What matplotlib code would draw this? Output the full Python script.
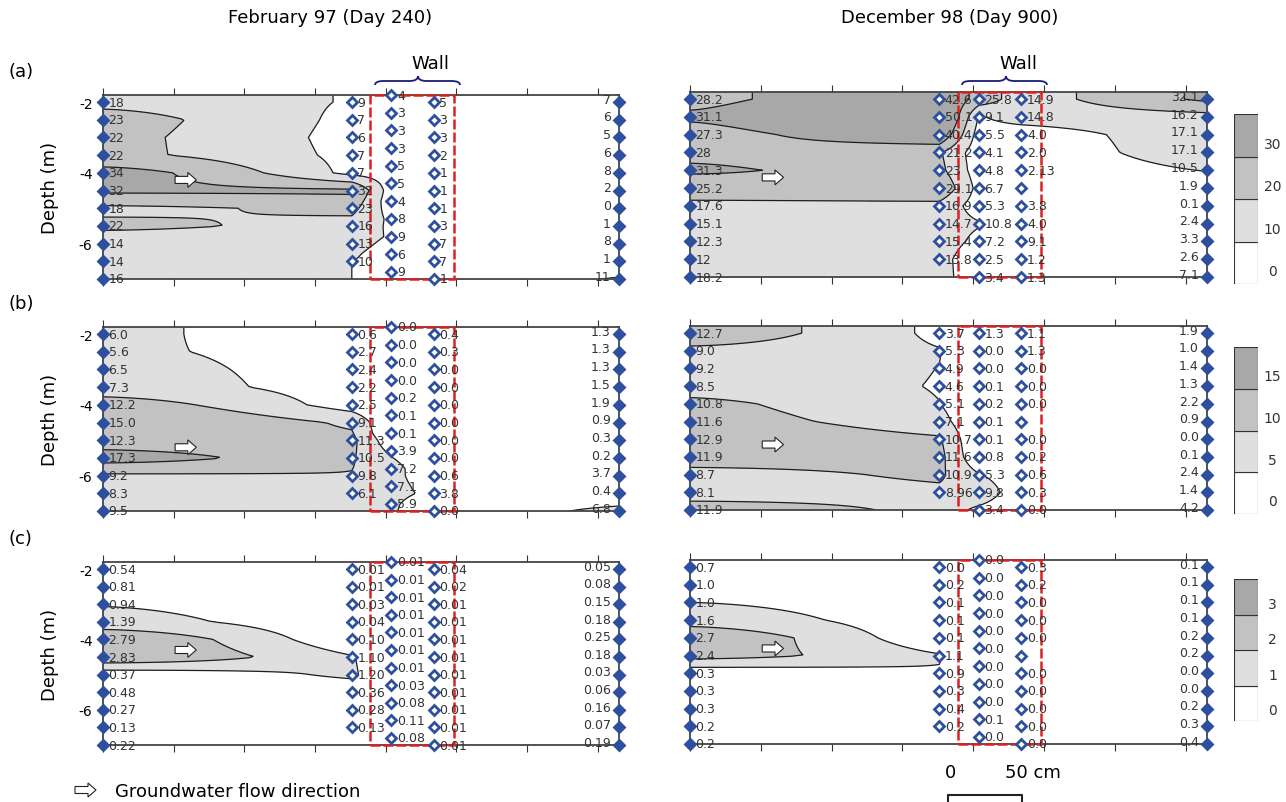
import numpy as np
import matplotlib
matplotlib.use('Agg')
import matplotlib.pyplot as plt
from matplotlib.patches import FancyArrow, Rectangle, PathPatch
from matplotlib.path import Path

plt.rcParams['axes.unicode_minus'] = False

# sampling geometry (cm from upstream well, depth in m)
COL_X = [0, 176, 204, 234, 365]
DEPTH = [-2.0, -2.5, -3.0, -3.5, -4.0, -4.5, -5.0, -5.5, -6.0, -6.5, -7.0]
DEPTH_UP = DEPTH[:10]
DEPTH_HI = [d + 0.2 for d in DEPTH]
nan = np.nan

# ---- February 97 (Day 240) ----
feb_a = [[18, 23, 22, 22, 34, 32, 18, 22, 14, 14, 16],
         [9, 7, 6, 7, 7, 32, 23, 16, 13, 10],
         [4, 3, 3, 3, 5, 5, 4, 8, 9, 6, 9],
         [5, 3, 3, 2, 1, 1, 1, 3, 7, 7, 1],
         [7, 6, 5, 6, 8, 2, 0, 1, 8, 1, 11]]
feb_b = [[6.0, 5.6, 6.5, 7.3, 12.2, 15.0, 12.3, 17.3, 9.2, 8.3, 9.5],
         [0.6, 2.7, 2.4, 2.2, 2.5, 9.1, 11.3, 10.5, 9.8, 6.1],
         [0.0, 0.0, 0.0, 0.0, 0.2, 0.1, 0.1, 3.9, 7.2, 7.1, 5.9],
         [0.4, 0.3, 0.0, 0.0, 0.0, 0.0, 0.0, 0.0, 0.6, 3.8, 0.0],
         [1.3, 1.3, 1.3, 1.5, 1.9, 0.9, 0.3, 0.2, 3.7, 0.4, 6.8]]
feb_c = [[0.54, 0.81, 0.94, 1.39, 2.79, 2.83, 0.37, 0.48, 0.27, 0.13, 0.22],
         [0.01, 0.01, 0.03, 0.04, 0.10, 1.10, 1.20, 0.36, 0.28, 0.13],
         [0.01, 0.01, 0.01, 0.01, 0.01, 0.01, 0.01, 0.03, 0.08, 0.11, 0.08],
         [0.04, 0.02, 0.01, 0.01, 0.01, 0.01, 0.01, 0.01, 0.01, 0.01, 0.01],
         [0.05, 0.08, 0.15, 0.18, 0.25, 0.18, 0.03, 0.06, 0.16, 0.07, 0.19]]

# ---- December 98 (Day 900) ----
dec_a = [[28.2, 31.1, 27.3, 28, 31.3, 25.2, 17.6, 15.1, 12.3, 12, 18.2],
         [42.6, 50.1, 40.4, 21.2, 23, 29.1, 16.9, 14.7, 15.4, 13.8],
         [25.8, 9.1, 5.5, 4.1, 4.8, 6.7, 5.3, 10.8, 7.2, 2.5, 3.4],
         [14.9, 14.8, 4.0, 2.0, 2.13, nan, 3.8, 4.0, 9.1, 1.2, 1.3],
         [32.1, 16.2, 17.1, 17.1, 10.5, 1.9, 0.1, 2.4, 3.3, 2.6, 7.1]]
dec_b = [[12.7, 9.0, 9.2, 8.5, 10.8, 11.6, 12.9, 11.9, 8.7, 8.1, 11.9],
         [3.7, 5.3, 4.9, 4.6, 5.1, 7.1, 10.7, 11.6, 10.9, 8.96],
         [1.3, 0.0, 0.0, 0.1, 0.2, 0.1, 0.1, 0.8, 5.3, 9.8, 3.4],
         [1.1, 1.3, 0.0, 0.0, 0.0, nan, 0.0, 0.2, 0.6, 0.3, 0.0],
         [1.9, 1.0, 1.4, 1.3, 2.2, 0.9, 0.0, 0.1, 2.4, 1.4, 4.2]]
dec_c = [[0.7, 1.0, 1.0, 1.6, 2.7, 2.4, 0.3, 0.3, 0.3, 0.2, 0.2],
         [0.0, 0.2, 0.1, 0.1, 0.1, 1.1, 0.9, 0.3, 0.4, 0.2],
         [0.0, 0.0, 0.0, 0.0, 0.0, 0.0, 0.0, 0.0, 0.0, 0.1, 0.0],
         [0.3, 0.2, 0.0, 0.0, 0.0, nan, 0.0, 0.0, 0.0, 0.0, 0.0],
         [0.1, 0.1, 0.1, 0.1, 0.2, 0.2, 0.0, 0.0, 0.2, 0.3, 0.4]]

LEVELS = {'a': [0, 10, 20, 30], 'b': [0, 5, 10, 15], 'c': [0, 1, 2, 3]}
FILLS = ['#ffffff', '#dfdfdf', '#c2c2c2', '#a8a8a8']
BLUE = '#2d4f9e'


def col_depths(side, row, k):
    if k == 1:
        return DEPTH_UP
    if k == 2 and (side == 'L' or row == 'c'):
        return DEPTH_HI
    return DEPTH


def warp(x):
    # stretch the wide gap between the two well lines
    x = np.asarray(x, float)
    return np.where(x < COL_X[1], COL_X[1] * (x / COL_X[1]) ** 1.5, x)


def grid(cols, side, row):
    yg = np.linspace(-7.0, -1.8, 131)
    xg = np.linspace(0, 365, 731)
    cv = []
    for k, vals in enumerate(cols):
        d = np.array(col_depths(side, row, k))
        v = np.array(vals, float)
        m = ~np.isnan(v)
        o = np.argsort(d[m])
        cv.append(np.interp(yg, d[m][o], v[m][o]))
    cv = np.array(cv)
    xw = warp(xg)
    Z = np.array([np.interp(xw, COL_X, cv[:, j]) for j in range(len(yg))])
    return xg, yg, Z


def make_labels(cols, f):
    out = []
    for vals in cols:
        out.append(["" if (isinstance(v, float) and np.isnan(v)) else f % v for v in vals])
    return out


feb_a_lab = make_labels(feb_a, "%d")
feb_b_lab = make_labels(feb_b, "%.1f")
feb_c_lab = make_labels(feb_c, "%.2f")
dec_a_lab = make_labels(dec_a, "%.1f")
dec_a_lab[0][3] = "28"
dec_a_lab[0][9] = "12"
dec_a_lab[1][4] = "23"
dec_a_lab[3][4] = "2.13"
dec_b_lab = make_labels(dec_b, "%.1f")
dec_b_lab[1][9] = "8.96"
dec_c_lab = make_labels(dec_c, "%.1f")


def draw_panel(ax, cols, texts, side, row, arrow_y):
    lv = LEVELS[row]
    xg, yg, Z = grid(cols, side, row)
    ax.contourf(xg, yg, Z, levels=lv + [1e4], colors=FILLS)
    ax.contour(xg, yg, Z, levels=lv[1:], colors='#1e1e1e', linewidths=0.9)
    ax.add_patch(Rectangle((189, -7.0), 59, 5.2, fill=False, ec='#e02020', lw=1.8,
                           ls=(0, (4, 1.2)), zorder=4, clip_on=False))
    for k, vals in enumerate(cols):
        d = col_depths(side, row, k)
        edge = k in (0, 4)
        ax.plot([COL_X[k]] * len(vals), d, ls='none', marker='D', ms=5.5,
                mfc=BLUE if edge else 'white', mec=BLUE, mew=2.0, zorder=6, clip_on=False)
        for j in range(len(vals)):
            t = texts[k][j]
            if not t:
                continue
            if k == 4:
                ax.annotate(t, (COL_X[k], d[j]), xytext=(-6, 2), textcoords='offset points',
                            ha='right', va='center', fontsize=9, color='#333333', zorder=7)
            else:
                ax.annotate(t, (COL_X[k], d[j]), xytext=(4, 0), textcoords='offset points',
                            ha='left', va='center', fontsize=9, color='#333333', zorder=7)
    ax.add_patch(FancyArrow(51, arrow_y, 15, 0, width=0.2, head_width=0.42, head_length=6,
                            length_includes_head=True, fc='white', ec='#222222', lw=0.8, zorder=5))
    ax.set_xlim(0, 365)
    ax.set_ylim(-7.0, -1.8)
    ax.set_xticks(np.arange(0, 351, 50))
    ax.set_yticks([-2, -4, -6])
    ax.tick_params(axis='x', top=True, bottom=True, labelbottom=False,
                   direction='out', length=5, color='#333333')
    ax.tick_params(axis='y', left=True, right=True, direction='inout', length=8,
                   color='#333333', labelsize=10, labelleft=(side == 'L'))
    for s in ax.spines.values():
        s.set_color('#444444')
        s.set_linewidth(1.3)


fig = plt.figure(figsize=(12.86, 8.03), dpi=100)
W, H = 1286.0, 803.0


def ax_at(x0, x1, y0, y1):
    return fig.add_axes([x0 / W, 1 - y1 / H, (x1 - x0) / W, (y1 - y0) / H])


panels = [
    ('L', 'a', feb_a, feb_a_lab, (103, 619, 96, 280), -4.2),
    ('L', 'b', feb_b, feb_b_lab, (103, 619, 328, 512), -5.2),
    ('L', 'c', feb_c, feb_c_lab, (103, 619, 563, 746), -4.3),
    ('R', 'a', dec_a, dec_a_lab, (690, 1207, 93, 278), -4.2),
    ('R', 'b', dec_b, dec_b_lab, (690, 1207, 327, 511), -5.15),
    ('R', 'c', dec_c, dec_c_lab, (690, 1207, 561, 745), -4.3),
]
for side, row, cols, labs, box, ay in panels:
    ax = ax_at(*box)
    draw_panel(ax, cols, labs, side, row, ay)
    if side == 'L':
        yc = (box[2] + box[3]) / 2
        fig.text(50 / W, 1 - yc / H, "Depth (m)", rotation=90, ha='center', va='center', fontsize=13)
        fig.text(8 / W, 1 - (box[2] - 24) / H, "(%s)" % row, ha='left', va='center', fontsize=13)

# legend bars
cbars = [('a', 1234, 1258, 115, 285), ('b', 1234, 1258, 348, 515), ('c', 1234, 1258, 580, 722)]
for row, x0, x1, y0, y1 in cbars:
    cax = ax_at(x0, x1, y0, y1)
    lv = LEVELS[row]
    for i in range(4):
        cax.add_patch(Rectangle((0, i), 1, 1, fc=FILLS[i], ec='#333333', lw=0.8))
        cax.text(1.6, i + 0.3, str(lv[i]), ha='center', va='center', fontsize=10, color='#333333')
    cax.set_xlim(0, 1)
    cax.set_ylim(0, 4)
    cax.axis('off')

# titles
fig.text(330 / W, 1 - 18 / H, "February 97 (Day 240)", ha='center', va='center', fontsize=13)
fig.text(950 / W, 1 - 18 / H, "December 98 (Day 900)", ha='center', va='center', fontsize=13)


def brace(xa, xb, yend, yline, ytip, xtip):
    w = xb - xa
    pts = [(xa, yend), (xa, yline), (xa + 0.1 * w, yline), (xtip - 0.1 * w, yline),
           (xtip, yline), (xtip, ytip), (xtip, yline), (xtip + 0.1 * w, yline),
           (xb - 0.1 * w, yline), (xb, yline), (xb, yend)]
    codes = [Path.MOVETO, Path.CURVE3, Path.CURVE3, Path.LINETO, Path.CURVE3, Path.CURVE3,
             Path.CURVE3, Path.CURVE3, Path.LINETO, Path.CURVE3, Path.CURVE3]
    pts = [(x / W, 1 - y / H) for x, y in pts]
    fig.add_artist(PathPatch(Path(pts, codes), fill=False, ec='#1c1c78', lw=1.3,
                             transform=fig.transFigure))


brace(375, 460, 86, 82, 77, 418)
brace(962, 1047, 86, 82, 77, 1006)
fig.text(430 / W, 1 - 64 / H, "Wall", ha='center', va='center', fontsize=13)
fig.text(1018 / W, 1 - 64 / H, "Wall", ha='center', va='center', fontsize=13)

# flow direction legend
fig.add_artist(FancyArrow(75 / W, 1 - 791 / H, 21 / W, 0, width=7 / H, head_width=14 / H,
                          head_length=8 / W, length_includes_head=True, fc='white',
                          ec='#222222', lw=0.8, transform=fig.transFigure))
fig.text(115 / W, 1 - 792 / H, "Groundwater flow direction", ha='left', va='center', fontsize=13)

# scale bar
fig.text(950 / W, 1 - 773 / H, "0", ha='center', va='center', fontsize=13)
fig.text(1005 / W, 1 - 773 / H, "50 cm", ha='left', va='center', fontsize=13)
fig.add_artist(plt.Line2D([948 / W, 948 / W, 1022 / W, 1022 / W],
                          [1 - 802 / H, 1 - 796 / H, 1 - 796 / H, 1 - 802 / H],
                          color='#222222', lw=1.5, transform=fig.transFigure))

fig.savefig('out.png', dpi=100)
